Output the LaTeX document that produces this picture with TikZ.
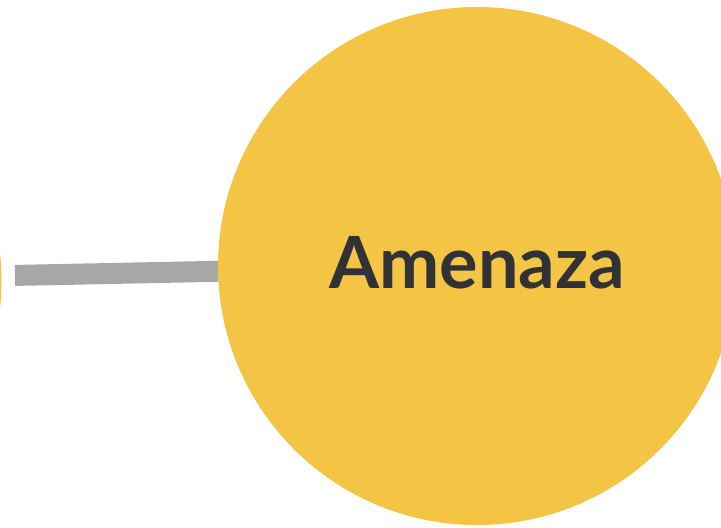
\documentclass[tikz,border=0pt]{standalone}
\usepackage{fontspec}
\newfontfamily\lato{Lato}
\usepackage{xcolor}
\definecolor{Saffron}{HTML}{F4C445}
\definecolor{Ash}{HTML}{A7A7A7}
\definecolor{Charcoal}{HTML}{303236}
\colorlet{cYellow}{Saffron}
\colorlet{cGrey}{Ash}
\colorlet{cText}{Charcoal}
\usetikzlibrary{positioning}
\tikzset{
	x = 1pt,
	y = -1pt,
	font = \lato\bfseries,
	blob/.style={
		circle,
		fill=cYellow,
		minimum size=518pt,
		inner sep=0pt,
		outer sep=0pt,
		text=cText
	},
	link/.style={
		line width=21pt,
		draw=cGrey,
		line cap=butt
	}
}

\begin{document}
\begin{tikzpicture}
		% ---
% frame
% ---
\useasboundingbox (0,0) rectangle (721,528);
\clip (0,0) rectangle (721,528);

\node[blob] at (-257.5,281) (prev) {};
\node[blob, text depth=8pt, font=\lato\bfseries\fontsize{72}{72}\selectfont] at (477,266) (amenaza) {Amenaza};

\draw[link, shorten <=13.5pt] (prev) to (amenaza);
	\end{tikzpicture}
\end{document}
